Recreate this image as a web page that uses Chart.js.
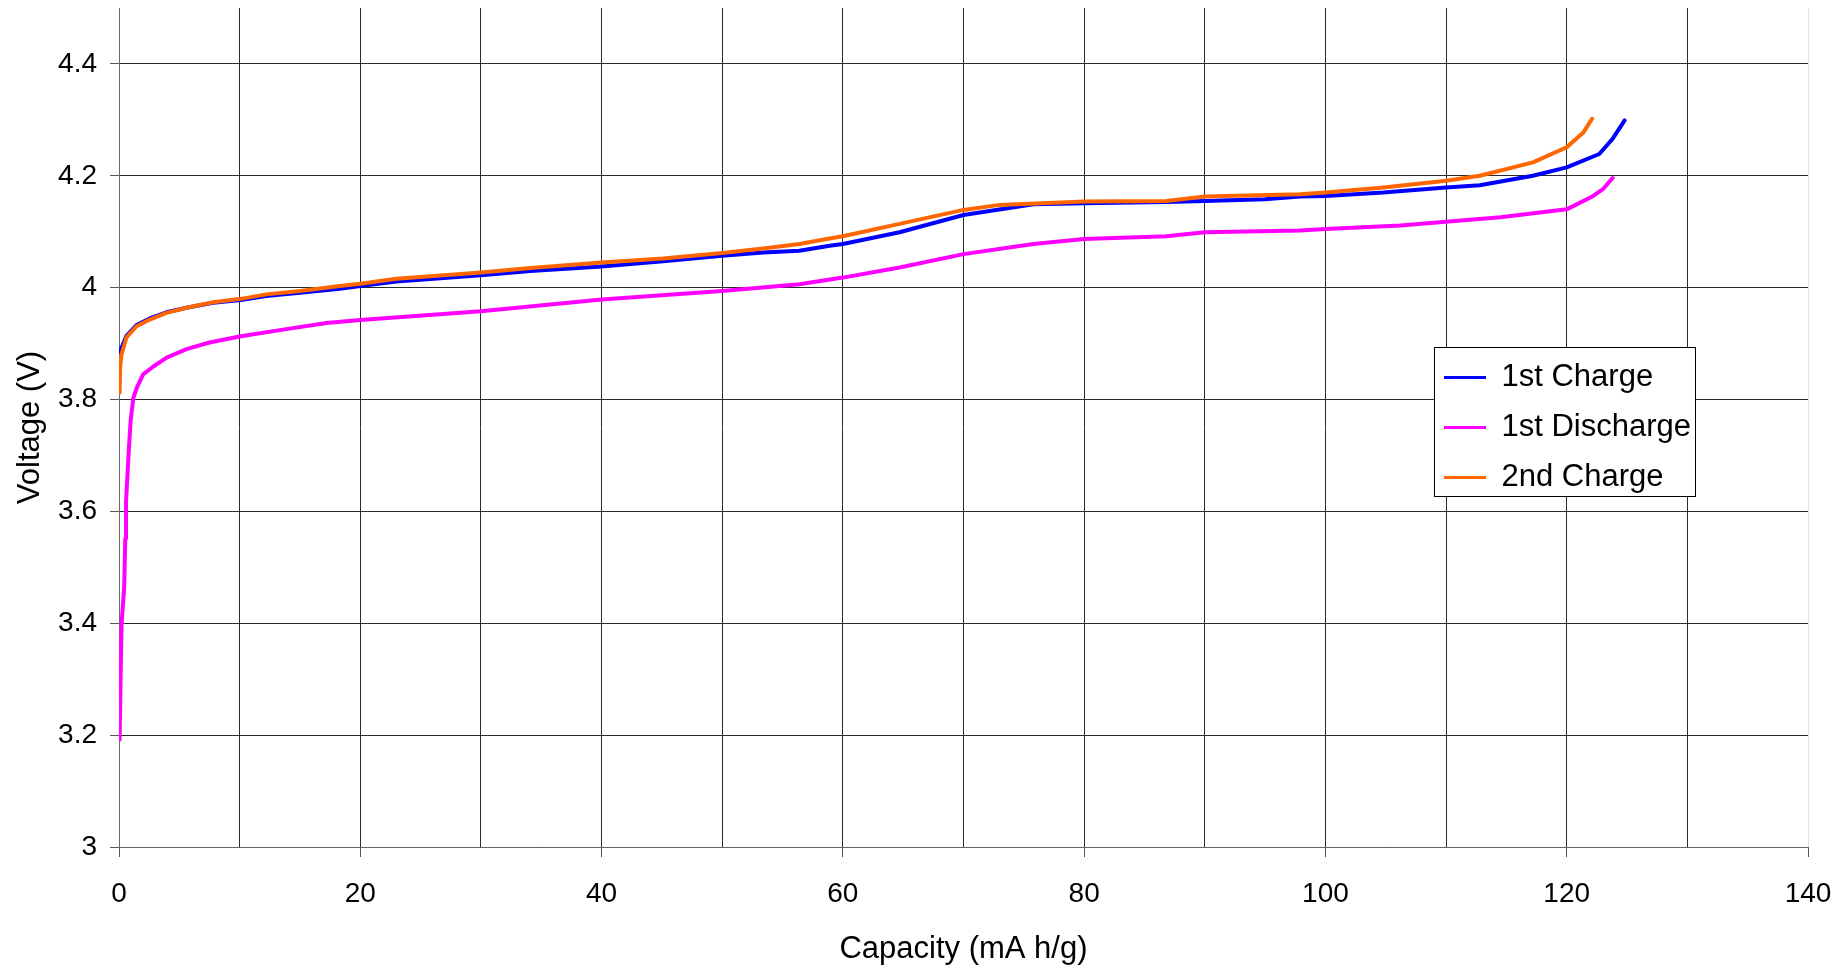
<!DOCTYPE html>
<html>
<head>
<meta charset="utf-8">
<script src="https://cdn.jsdelivr.net/npm/chart.js@4.4.1/dist/chart.umd.min.js"></script>
<style>
  html, body { margin: 0; padding: 0; background: #fff; }
  #wrap { width: 1848px; height: 968px; position: relative; }
</style>
</head>
<body>
<div id="wrap"><canvas id="c"></canvas></div>
<script>
// ---- data ----
const seriesNames = ['1st Charge', '1st Discharge', '2nd Charge'];

const chg1Cap = [0.05, 0.3, 0.62, 1.45, 2.55, 3.93, 5.6, 7.8, 10.1, 12.2, 15, 18.3, 20, 23, 30, 34.1, 40, 45.1, 50, 53.4, 56.4, 58.9, 60, 64.7, 70, 75.8, 80, 86.8, 90, 95, 97.9, 100, 104.8, 110, 112.8, 117.2, 120, 122.7, 123.8, 124.8];
const chg1V   = [3.885, 3.897, 3.914, 3.933, 3.945, 3.956, 3.964, 3.973, 3.978, 3.985, 3.991, 3.998, 4.003, 4.011, 4.022, 4.030, 4.038, 4.047, 4.057, 4.063, 4.066, 4.075, 4.078, 4.099, 4.130, 4.149, 4.151, 4.153, 4.155, 4.158, 4.163, 4.164, 4.170, 4.179, 4.183, 4.200, 4.215, 4.239, 4.266, 4.299];

const disCap = [0.05, 0.12, 0.21, 0.43, 0.52, 0.58, 0.83, 0.97, 1.19, 1.47, 2.0, 2.85, 3.95, 5.6, 7.5, 10.1, 13.6, 17.2, 20, 30, 40, 50, 56.4, 60, 64.7, 70, 75.8, 80, 86.8, 90, 97.9, 100, 106.2, 114.5, 120, 122.2, 123, 123.8];
const disV   = [3.192, 3.285, 3.398, 3.464, 3.551, 3.617, 3.716, 3.764, 3.803, 3.821, 3.845, 3.859, 3.875, 3.890, 3.902, 3.913, 3.925, 3.937, 3.942, 3.958, 3.979, 3.994, 4.006, 4.018, 4.036, 4.060, 4.078, 4.087, 4.092, 4.099, 4.102, 4.105, 4.111, 4.126, 4.140, 4.164, 4.176, 4.196];

const chg2Cap = [0.05, 0.1, 0.21, 0.62, 1.45, 2.55, 3.93, 5.6, 7.8, 10.1, 12.2, 15, 18.3, 20, 23, 30, 34.1, 40, 45.1, 50, 53.4, 56.4, 58.9, 60, 64.7, 70, 73, 80, 86.8, 90, 97.9, 100, 104.8, 110, 112.8, 117.2, 120, 121.4, 122.1];
const chg2V   = [3.812, 3.860, 3.881, 3.911, 3.931, 3.943, 3.955, 3.964, 3.974, 3.980, 3.988, 3.994, 4.003, 4.007, 4.016, 4.027, 4.035, 4.045, 4.052, 4.062, 4.070, 4.078, 4.088, 4.092, 4.114, 4.139, 4.148, 4.154, 4.155, 4.163, 4.167, 4.170, 4.179, 4.191, 4.200, 4.224, 4.251, 4.278, 4.302];

const xTickValues = [0, 10, 20, 30, 40, 50, 60, 70, 80, 90, 100, 110, 120, 130, 140];
const xLabelValues = [0, 20, 40, 60, 80, 100, 120, 140];
const yTickValues = [3, 3.2, 3.4, 3.6, 3.8, 4, 4.2, 4.4];

// ---- helpers ----
const toPoints = (xs, ys) => xs.map((x, i) => ({ x: x, y: ys[i] }));
const FONT = "'Liberation Sans', Arial, sans-serif";

const legendPlacer = {
  id: 'legendPlacer',
  afterLayout(chart) {
    const lg = chart.legend;
    const w = lg.width, h = lg.height;
    lg.left = 1425; lg.top = 343;
    lg.right = lg.left + w; lg.bottom = lg.top + h;
  },
  afterDraw(chart) {
    const ctx = chart.ctx;
    ctx.save();
    ctx.fillStyle = '#ffffff';
    ctx.fillRect(1434, 347, 261, 149);
    ctx.strokeStyle = '#000000';
    ctx.lineWidth = 1;
    ctx.strokeRect(1434.5, 347.5, 261, 149);
    ctx.restore();
    chart.legend.draw();
  }
};

new Chart(document.getElementById('c'), {
  type: 'line',
  data: {
    datasets: [
      { label: seriesNames[0], data: toPoints(chg1Cap, chg1V), borderColor: '#0000ff', backgroundColor: '#0000ff', order: 2 },
      { label: seriesNames[1], data: toPoints(disCap, disV), borderColor: '#ff00ff', backgroundColor: '#ff00ff', order: 3 },
      { label: seriesNames[2], data: toPoints(chg2Cap, chg2V), borderColor: '#ff6600', backgroundColor: '#ff6600', order: 1 }
    ]
  },
  options: {
    responsive: true,
    maintainAspectRatio: false,
    animation: false,
    devicePixelRatio: 1,
    elements: {
      line: { borderWidth: 4, tension: 0, fill: false, borderJoinStyle: 'round', borderCapStyle: 'round' },
      point: { radius: 0, hoverRadius: 0, borderWidth: 3 }
    },
    layout: { padding: { top: 8, right: 40, bottom: 0, left: 0 } },
    plugins: {
      tooltip: { enabled: false },
      legend: {
        display: true,
        position: 'chartArea',
        align: 'start',
        labels: {
          usePointStyle: true,
          pointStyle: 'line',
          pointStyleWidth: 42,
          padding: 19,
          color: '#000',
          font: { family: FONT, size: 31 },
          sort: (a, b) => a.datasetIndex - b.datasetIndex
        }
      }
    },
    scales: {
      x: {
        type: 'linear',
        min: 0,
        max: 140,
        afterBuildTicks: s => { s.ticks = xTickValues.map(v => ({ value: v })); },
        afterFit: s => { s.height = 121; s.paddingLeft = 0; s.paddingRight = 0; },
        grid: {
          color: c => (c.tick && c.tick.value === 140 ? '#e2e2e2' : '#2a2a2a'),
          tickColor: c => (c.tick && xLabelValues.includes(c.tick.value) ? '#555' : 'rgba(0,0,0,0)'),
          lineWidth: 1,
          tickLength: 10,
          drawTicks: true
        },
        border: { display: true, color: '#666', width: 1 },
        ticks: {
          autoSkip: false,
          maxRotation: 0,
          padding: 20,
          color: '#000',
          font: { family: FONT, size: 28 },
          callback: v => (xLabelValues.includes(v) ? String(v) : '')
        },
        title: {
          display: true,
          text: 'Capacity (mA h/g)',
          color: '#000',
          font: { family: FONT, size: 31 },
          padding: { top: 0, bottom: 0 }
        }
      },
      y: {
        type: 'linear',
        min: 3,
        max: 4.5,
        afterBuildTicks: s => { s.ticks = yTickValues.map(v => ({ value: v })); },
        afterFit: s => { s.width = 119; s.paddingTop = 0; s.paddingBottom = 0; },
        grid: {
          color: '#2a2a2a',
          tickColor: '#555',
          lineWidth: 1,
          tickLength: 9,
          drawTicks: true
        },
        border: { display: true, color: '#666', width: 1 },
        ticks: {
          autoSkip: false,
          padding: 13,
          color: '#000',
          font: { family: FONT, size: 28 },
          callback: v => String(Math.round(v * 10) / 10)
        },
        title: {
          display: true,
          text: 'Voltage (V)',
          color: '#000',
          font: { family: FONT, size: 31 },
          padding: { top: 12, bottom: 0 }
        }
      }
    }
  },
  plugins: [legendPlacer]
});
</script>
</body>
</html>
